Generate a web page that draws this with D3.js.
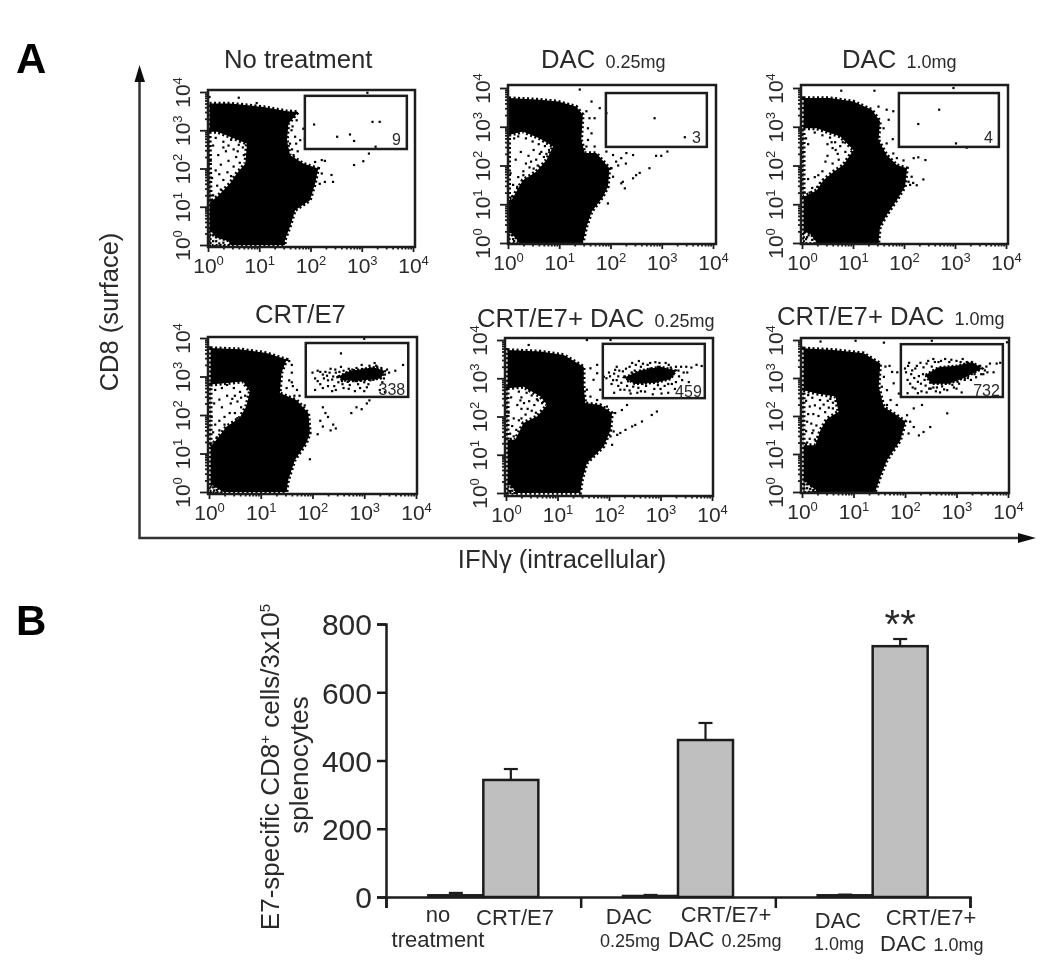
<!DOCTYPE html>
<html><head><meta charset="utf-8">
<script src="https://cdn.jsdelivr.net/npm/d3@7"></script>
<style>html,body{margin:0;background:#fff}svg{display:block}text{font-family:"Liberation Sans",Arial,sans-serif;fill:#2a2a2a}</style>
</head><body><svg id="c" width="1050" height="974"></svg>
<script>
// ---------- Panel A data: all coordinates are log10(fluorescence) ----------
const panelTitles = [["No treatment",""],["DAC ","0.25mg"],["DAC ","1.0mg"],["CRT/E7",""],["CRT/E7+ DAC ","0.25mg"],["CRT/E7+ DAC ","1.0mg"]];
const gateCounts = ["9","3","4","338","459","732"];
const gates = [[1.89,3.88,2.51,3.9],[1.91,3.88,2.48,3.87],[1.9,3.86,2.48,3.87],[1.87,3.85,2.47,3.87],[1.88,3.86,2.48,3.9],[1.92,3.9,2.5,3.89]];

const blobs = [
[[.03,3.70],[.43,3.70],[1.08,3.61],[1.54,3.50],[1.76,3.48],[1.57,3.17],[1.54,2.74],[1.60,2.35],[1.86,2.13],[2.15,2.00],[2.09,1.61],[1.99,1.17],[1.70,.91],[1.60,.48],[1.50,.13],[1.50,0],[.03,0]],
[[.02,3.74],[.62,3.70],[.98,3.65],[1.33,3.52],[1.46,3.31],[1.43,2.66],[1.50,2.32],[1.72,2.32],[1.98,1.93],[1.95,1.45],[1.85,1.19],[1.63,.80],[1.53,.41],[1.46,0],[.02,0]],
[[.03,3.74],[.55,3.74],[1.01,3.65],[1.37,3.44],[1.53,3.14],[1.50,2.66],[1.66,2.27],[1.86,2.01],[2.06,1.93],[2.02,1.45],[1.86,1.11],[1.66,.72],[1.53,.41],[1.50,0],[.03,0]],
[[.03,3.74],[.59,3.71],[1.11,3.61],[1.50,3.44],[1.40,3.09],[1.37,2.57],[1.69,2.39],[1.92,2.05],[1.95,1.53],[1.88,1.27],[1.66,.83],[1.53,.31],[1.50,0],[.03,0]],
[[.03,3.74],[.67,3.70],[1.12,3.61],[1.51,3.30],[1.51,2.78],[1.54,2.35],[1.83,2.30],[2.06,2.09],[2.03,1.65],[1.90,1.22],[1.57,.78],[1.48,.35],[1.44,0],[.03,0]],
[[.03,3.78],[.61,3.74],[1.20,3.65],[1.52,3.38],[1.49,2.77],[1.59,2.24],[1.84,2.02],[2.01,1.85],[1.91,1.36],[1.65,.84],[1.52,.40],[1.42,0],[.03,0]]
];
const holes = [
[[.03,2.96],[.18,2.96],[.43,2.83],[.76,2.65],[.73,2.13],[.56,1.87],[.43,1.61],[.18,1.26],[.05,1.13]],
[[.02,2.79],[.29,2.88],[.62,2.70],[.88,2.49],[.75,2.14],[.55,1.84],[.29,1.62],[.07,1.11],[.02,1.11]],
[[.03,2.96],[.29,2.96],[.75,2.75],[1.01,2.40],[.81,2.01],[.62,1.84],[.42,1.62],[.29,1.36],[.03,1.19]],
[[.03,2.79],[.34,2.83],[.66,2.87],[.79,2.61],[.72,2.22],[.59,1.92],[.34,1.70],[.14,1.35],[.03,1.18]],
[[.03,2.74],[.34,2.78],[.67,2.52],[.80,2.30],[.60,2.0],[.34,1.83],[.18,1.39],[.03,1.39]],
[[.03,2.68],[.29,2.59],[.65,2.51],[.71,2.11],[.49,1.93],[.36,1.63],[.26,1.23],[.03,1.23]]
];
const corners = [
[[.05,.38],[.15,.2],[.4,.1],[.45,0],[.05,0]],
[[.03,.3],[.14,.14],[.22,0],[.03,0]],
[[.04,.28],[.15,.25],[.3,0],[.04,0]],
[[.03,.2],[.17,.09],[.28,0],[.03,0]],
[[.05,.25],[.17,.08],[.18,0],[.05,0]],
[[.05,.3],[.16,.16],[.3,.03],[.05,0]]
];
const holeEvents = [
[[.15,2.8],[.3,2.7],[.45,2.75],[.6,2.62],[.68,2.55],[.5,2.5],[.35,2.45],[.2,2.35],[.1,2.6],[.55,2.3],[.62,2.15],[.4,2.2],[.25,2.1],[.15,1.95],[.38,1.9],[.5,2.05],[.3,1.7],[.18,1.55],[.1,1.3],[.08,1.75],[.25,1.45],[.4,2.6],[.7,2.35],[.05,2.2],[.3,2.55],[.45,1.8],[.58,2.45],[.22,1.85]],
[[.12,2.7],[.2,2.75],[.35,2.7],[.48,2.62],[.6,2.55],[.72,2.5],[.8,2.4],[.65,2.35],[.5,2.4],[.4,2.25],[.45,2.1],[.55,2.15],[.7,2.22],[.35,2.05],[.42,1.95],[.5,1.92],[.3,1.85],[.2,1.7],[.1,1.5],[.18,1.45],[.08,1.2],[.25,2.35],[.15,2.15],[.58,2.0],[.3,1.75],[.62,2.3],[.05,1.8],[.75,2.3]],
[[.08,2.7],[.12,2.55],[.25,2.85],[.4,2.78],[.55,2.72],[.65,2.6],[.75,2.5],[.85,2.35],[.7,2.3],[.6,2.45],[.72,2.15],[.6,2.05],[.5,2.25],[.4,1.85],[.32,1.75],[.25,1.7],[.35,1.55],[.3,1.45],[.12,1.65],[.05,1.3],[.15,1.3],[.8,2.6],[.58,2.6],[.46,2.1],[.66,2.4],[.2,1.42],[.5,2.55]],
[[.12,2.65],[.25,2.7],[.35,2.78],[.48,2.7],[.6,2.6],[.5,2.5],[.35,2.5],[.2,2.4],[.1,2.3],[.55,2.35],[.62,2.2],[.42,2.3],[.5,2.05],[.4,2.05],[.3,1.95],[.2,1.85],[.12,1.75],[.3,1.75],[.2,1.6],[.08,1.55],[.15,1.42],[.05,1.95],[.45,2.42],[.62,2.45],[.25,2.2],[.55,1.92],[.7,2.5]],
[[.25,2.65],[.3,2.5],[.4,2.62],[.5,2.55],[.6,2.45],[.45,2.4],[.35,2.35],[.55,2.3],[.7,2.35],[.42,2.2],[.3,2.2],[.5,2.15],[.58,2.1],[.22,2.3],[.1,2.5],[.15,1.95],[.25,1.9],[.12,1.75],[.2,1.65],[.08,1.55],[.15,1.48],[.38,2.05],[.62,2.42],[.28,2.42],[.45,2.7],[.05,2.1],[.3,1.95]],
[[.12,2.55],[.2,2.48],[.35,2.42],[.5,2.4],[.6,2.35],[.42,2.3],[.52,2.22],[.6,2.2],[.35,2.2],[.25,2.28],[.15,2.25],[.08,2.4],[.12,2.05],[.22,2.05],[.32,2.0],[.1,1.85],[.18,1.8],[.28,1.75],[.08,1.6],[.2,1.55],[.15,1.4],[.25,1.38],[.1,1.3],[.45,2.1],[.55,2.45],[.22,1.62]]
];
const cornerEvents = [
[[.1,.25],[.16,.1],[.3,.06],[.1,.1],[.22,.04]],
[[.08,.2],[.1,.1],[.12,.05]],
[[.1,.15],[.13,.2],[.2,.08],[.08,.1]],
[[.08,.12],[.15,.05],[.1,.04]],
[[.1,.15],[.12,.06],[.08,.05]],
[[.1,.2],[.16,.08],[.1,.1],[.22,.05]]
];
const scatterEvents = [
[[2.07,3.15],[3.21,3.22],[3.35,3.22],[2.52,2.83],[2.77,2.89],[2.85,2.72],[3.27,2.57],[2.85,2.09],[3.03,2.19],[3.11,3.98],[3.14,2.39],[2.22,2.22],[2.28,2.2],[2.09,2.17],[2.41,1.83],[2.44,1.65],[2.28,1.65],[2.22,1.87],[2.18,1.6],[1.67,3.35],[1.63,3.0],[1.70,2.83],[1.73,3.26],[1.6,2.65],[1.8,2.74],[1.67,2.35],[1.86,3.04],[1.89,2.78],[.6,3.85],[.95,3.71],[.03,3.87],[1.65,3.1],[1.72,2.65],[1.64,2.5],[1.75,2.45]],
[[2.86,3.22],[3.45,2.73],[1.4,3.96],[2.89,2.25],[2.99,2.25],[3.11,2.36],[2.76,1.93],[2.57,1.81],[2.5,1.75],[2.44,1.67],[2.21,1.54],[2.28,1.41],[2.24,1.58],[2.11,2.1],[2.21,2.19],[2.31,2.32],[2.44,2.27],[2.05,2.27],[1.92,2.36],[2.02,1.93],[2.05,1.71],[1.95,1.02],[1.79,3.48],[1.92,3.35],[1.63,3.65],[1.53,3.4],[1.59,3.22],[1.56,2.96],[1.56,2.66],[1.69,2.49],[1.53,2.49],[1.63,2.83],[1.69,3.22],[2.15,2.0],[2.3,2.05]],
[[2.69,3.44],[2.28,3.07],[3.02,2.57],[3.23,2.46],[.77,3.93],[1.42,3.93],[2.97,4.0],[2.42,2.14],[2.28,2.21],[2.19,2.19],[1.99,2.13],[2.38,1.64],[2.25,1.49],[2.15,1.71],[2.09,1.58],[1.79,3.4],[1.66,3.44],[1.5,3.52],[1.7,3.18],[1.78,2.68],[1.6,2.96],[1.66,2.57],[1.79,2.31],[1.86,2.19],[1.99,1.75],[2.12,1.5],[2.18,1.55]],
[[2.0,3.1],[2.05,2.95],[2.1,3.15],[2.15,2.8],[2.2,3.05],[2.25,3.12],[2.3,2.9],[2.35,3.2],[2.4,3.0],[2.42,2.75],[2.45,3.1],[2.5,2.85],[2.55,3.25],[2.6,2.7],[2.62,3.05],[2.65,2.95],[2.7,3.2],[2.72,2.78],[2.75,3.1],[2.78,2.9],[2.8,3.15],[2.82,2.62],[2.85,3.22],[2.88,2.8],[2.9,3.05],[2.95,3.3],[3,2.85],[3.02,3.18],[3.05,2.72],[3.1,3.28],[3.12,2.9],[3.15,3.2],[3.2,3.35],[3.22,2.95],[3.25,3.25],[3.3,3.12],[3.35,2.85],[3.4,3.05],[3.48,3.1],[3.6,3.15],[3.75,3.3],[2.55,3.6],[2.05,2.65],[2.2,2.7],[2.45,2.65],[3.3,2.65],[3.4,2.6],[2.85,2.2],[2.95,2.15],[3.05,2.3],[3.1,2.38],[2.75,2.05],[2.2,2.2],[2.25,2.05],[2.3,1.95],[2.4,1.75],[2.45,1.65],[2.35,1.6],[2.2,1.7],[2.15,1.85],[2.1,1.5],[1.95,.85],[3.0,3.98],[1.55,3.4],[1.6,3.3],[1.6,3.1],[1.55,2.9],[1.62,2.75],[1.5,2.7],[1.7,2.65],[1.75,2.5],[1.65,2.5],[1.6,2.85],[1.85,2.25],
 [2.22,2.95],[2.28,3.02],[2.33,3.1],[2.38,2.92],[2.44,3.18],[2.48,2.98],[2.52,3.12],[2.57,2.88],[2.6,3.15],[2.66,3.1],[2.68,2.86],[2.73,3.02],[2.77,3.18],[2.83,2.88],[2.87,3.12],[2.92,2.9],[2.97,3.18],[3.03,3.0],[3.07,3.12],[3.13,3.05],[3.18,2.92],[3.23,3.28],[3.28,3.0],[3.33,3.22],[3.38,2.95],[3.44,3.18],[2.1,2.88],[2.15,3.12],[2.3,2.75],[2.38,2.62],[2.58,2.8],[2.7,2.68],[2.92,2.7],[3.0,2.62],[3.08,2.8]],
[[1.95,3.0],[2.0,3.15],[2.05,2.85],[2.1,3.12],[2.15,2.95],[2.2,3.2],[2.22,2.7],[2.3,3.05],[2.35,2.8],[2.4,3.3],[2.42,2.6],[2.45,3.4],[2.5,3.2],[2.55,2.62],[2.58,3.45],[2.62,3.3],[2.7,2.65],[2.75,3.35],[2.8,3.25],[2.85,2.58],[2.9,3.42],[2.95,3.3],[3.0,2.72],[3.05,3.22],[3.1,3.4],[3.15,2.62],[3.2,3.28],[3.25,3.1],[3.3,2.9],[3.35,3.2],[3.4,3.3],[3.45,3.15],[3.5,3.3],[3.55,2.9],[3.6,3.28],[3.7,3.35],[3.8,3.32],[2.1,2.62],[2.3,2.7],[2.65,2.85],[2.95,2.82],[3.15,2.85],[2.93,2.13],[2.83,2.04],[2.64,1.87],[2.51,1.78],[2.45,1.74],[2.32,1.65],[2.22,1.57],[2.12,2.09],[2.35,2.3],[2.25,2.17],[2.06,1.26],[1.57,4],[2.03,4],[.44,3.87],[2.09,1.61],[2.16,1.52],[2.03,1.48],[1.96,2.26],[1.64,3.26],[1.77,3.35],[1.57,2.7],[1.64,2.52],[1.77,2.43],[1.7,2.96],[1.83,2.7],[1.9,3.04],[1.77,3.13],
 [2.02,3.05],[2.08,2.95],[2.12,3.22],[2.18,3.05],[2.24,2.88],[2.27,3.18],[2.33,3.25],[2.37,2.92],[2.44,3.15],[2.47,2.78],[2.52,3.35],[2.57,2.75],[2.66,3.38],[2.72,2.8],[2.8,3.4],[2.88,2.72],[2.98,3.4],[3.08,2.8],[3.16,3.35],[3.22,2.85],[3.3,3.3],[3.36,3.05],[3.42,2.95],[3.52,3.15],[2.18,2.8],[2.4,2.68],[2.62,2.66],[3.02,2.6],[3.28,2.72],[2.15,3.3]],
[[2.0,3.25],[2.05,2.95],[2.08,3.4],[2.12,3.1],[2.15,2.75],[2.2,3.25],[2.25,2.9],[2.3,3.4],[2.32,2.65],[2.35,3.1],[2.4,2.8],[2.45,3.45],[2.5,2.72],[2.55,3.5],[2.6,2.65],[2.65,3.42],[2.72,2.78],[2.78,3.5],[2.82,2.68],[2.9,3.48],[2.95,2.75],[3.0,3.45],[3.05,2.85],[3.12,3.5],[3.2,3.42],[3.28,2.95],[3.35,3.1],[3.42,3.28],[3.48,3.1],[3.55,3.2],[3.6,3.15],[3.65,3.38],[3.72,3.15],[3.78,3.38],[3.85,3.4],[2.25,2.6],[2.55,2.75],[2.05,2.6],[2.82,2.07],[2.49,1.71],[2.36,1.58],[2.27,1.49],[2.17,1.71],[2.1,1.85],[2.17,2.2],[2.33,2.29],[2.04,2.02],[1.97,1.76],[2.07,1.54],[1.04,3.98],[1.59,3.93],[2.52,3.98],[3.98,3.94],[.36,3.96],[1.62,3.3],[1.59,3.03],[1.65,2.68],[1.52,2.5],[1.72,2.42],[1.84,2.29],[1.78,2.86],[1.88,2.59],[1.75,3.16],[1.55,2.77],[1.65,2.29],[1.7,3.32],[1.85,3.15],
 [2.02,3.15],[2.06,3.32],[2.1,2.85],[2.14,3.2],[2.18,3.0],[2.23,3.32],[2.27,3.05],[2.31,2.85],[2.36,3.28],[2.38,2.95],[2.42,3.38],[2.47,2.72],[2.52,3.3],[2.58,3.42],[2.62,2.75],[2.7,3.45],[2.76,2.7],[2.86,3.42],[2.92,2.82],[3.02,2.9],[3.08,3.42],[3.16,2.95],[3.22,3.0],[3.38,3.02],[3.46,3.32],[3.52,3.1],[3.58,3.3],[2.2,2.72],[2.42,2.62],[2.68,2.62],[3.0,2.72],[3.1,2.62]]
];
const gateCores = [[],[],[],
[[2.5,3.0],[2.72,3.14],[3.18,3.24],[3.4,3.14],[3.32,2.95],[2.85,2.88],[2.58,2.9]],
[[2.3,3.02],[2.6,3.2],[3.0,3.3],[3.3,3.2],[3.2,2.98],[2.9,2.88],[2.5,2.85]],
[[2.4,3.08],[2.65,3.28],[3.0,3.32],[3.3,3.42],[3.5,3.25],[3.15,3.0],[2.85,2.85],[2.5,2.85]]
];
const decades = [0,1,2,3,4];

// ---------- Panel B data ----------
const groups = ["g1","g2","g3"];
const treatments = ["dac","crt"];
const barValues = [[5,343],[3,460],[5,735]];
const barErrors = [[12,375],[6,510],[7,756]];
const yTicksB = [0,200,400,600,800];

// ---------- Layout ----------
const panelBox = [
 {x0:208,x4:413,y0:245,y4:92,l:208,r:415,t:90,b:247,tx:224,ty:68},
 {x0:508,x4:713,y0:243,y4:88,l:508,r:716,t:85,b:244,tx:541,ty:68},
 {x0:802,x4:1006,y0:243,y4:88,l:801,r:1008,t:85,b:244,tx:842,ty:68},
 {x0:209,x4:416,y0:492,y4:338,l:208,r:417,t:337,b:494,tx:255,ty:323},
 {x0:506,x4:712,y0:493,y4:340,l:505,r:713,t:338,b:496,tx:477,ty:327},
 {x0:802,x4:1008,y0:492,y4:340,l:801,r:1009,t:338,b:493,tx:777,ty:325}
];
const svg = d3.select("#c");
const defs = svg.append("defs");
defs.append("filter").attr("id","soft").attr("x",0).attr("y",0).attr("width",1).attr("height",1)
  .attr("filterUnits","objectBoundingBox").append("feGaussianBlur").attr("stdDeviation",0.55);
const root = svg.append("g").attr("filter","url(#soft)");
root.append("rect").attr("width",1050).attr("height",974).attr("fill","#fff");
const dark = "#1c1c1c";

function powerLabel(sel){
  sel.each(function(d){
    const e = Math.round(Math.log10(d));
    const t = d3.select(this).text("10");
    t.append("tspan").attr("font-size",13).attr("dy",-8).text(e);
  });
}

panelBox.forEach((box,i)=>{
  const g = root.append("g");
  const x = d3.scaleLog().domain([1,1e4]).range([box.x0,box.x4]);
  const y = d3.scaleLog().domain([1,1e4]).range([box.y0,box.y4]);
  const px = d=>x(10**d[0]), py = d=>y(10**d[1]);
  const line = d3.line().x(px).y(py).curve(d3.curveLinearClosed);
  // title
  const tt = g.append("text").attr("x",box.tx).attr("y",box.ty).attr("font-size",25.7);
  tt.append("tspan").text(panelTitles[i][0]);
  if(panelTitles[i][1]) tt.append("tspan").attr("font-size",18).attr("dx",3).text(panelTitles[i][1]);
  // population, with speckled edges
  g.append("path").attr("d",line(blobs[i])).attr("fill","#000").attr("stroke","#000").attr("stroke-width",3.5).attr("stroke-dasharray","2 2.5");
  g.append("path").attr("d",line(holes[i])).attr("fill","#fff");
  g.append("path").attr("d",line(holes[i])).attr("fill","none").attr("stroke","#000").attr("stroke-width",4).attr("stroke-dasharray","2 2.5");
  g.append("path").attr("d",line(corners[i])).attr("fill","#f4f4f4").attr("stroke","#000").attr("stroke-width",2).attr("stroke-dasharray","2 2");
  if(gateCores[i].length) g.append("path").attr("d",line(gateCores[i])).attr("fill","#000").attr("stroke","#000").attr("stroke-width",2.5).attr("stroke-dasharray","2 2");
  [holeEvents[i],cornerEvents[i],scatterEvents[i]].forEach(list=>{
    g.append("g").selectAll("rect").data(list).join("rect")
      .attr("x",d=>px(d)-1.1).attr("y",d=>py(d)-1.1).attr("width",2.2).attr("height",2.2).attr("fill","#000");
  });
  // white margin outside the frame so edge strokes stay inside
  // frame and gate
  g.append("rect").attr("x",box.l).attr("y",box.t).attr("width",box.r-box.l).attr("height",box.b-box.t)
    .attr("fill","none").attr("stroke",dark).attr("stroke-width",2.5);
  const gt = gates[i];
  g.append("rect").attr("x",x(10**gt[0])).attr("y",y(10**gt[3]))
    .attr("width",x(10**gt[1])-x(10**gt[0])).attr("height",y(10**gt[2])-y(10**gt[3]))
    .attr("fill","none").attr("stroke",dark).attr("stroke-width",2.5);
  g.append("text").attr("x",x(10**gt[1])-(i<3?6:3)).attr("y",y(10**gt[2])-(i<3?4:1.5))
    .attr("text-anchor","end").attr("font-size",16).text(gateCounts[i]);
  // axes
  const majors = decades.map(e=>10**e);
  const minors = d3.merge(decades.slice(0,4).map(e=>d3.range(2,10).map(m=>m*10**e)));
  const ax = g.append("g").attr("transform",`translate(0,${box.b})`);
  ax.append("g").call(d3.axisBottom(x).tickValues(minors).tickSize(2.5).tickFormat(""));
  ax.append("g").attr("class","maj").call(d3.axisBottom(x).tickValues(majors).tickSize(5).tickPadding(9));
  const ay = g.append("g").attr("transform",`translate(${box.l},0)`);
  ay.append("g").call(d3.axisLeft(y).tickValues(minors).tickSize(3).tickFormat(""));
  ay.append("g").attr("class","maj").call(d3.axisLeft(y).tickValues(majors).tickSize(8).tickPadding(5));
  g.selectAll(".domain").remove();
  g.selectAll(".tick line").attr("stroke",dark).attr("stroke-width",1.8);
  ax.select(".maj").selectAll(".tick text").attr("font-size",21).attr("font-family",null)
    .attr("y",null).attr("dy",null).attr("transform",`translate(0,26)`).call(powerLabel);
  ay.select(".maj").selectAll(".tick text").each(function(d){
      d3.select(this).attr("x",null).attr("dy",null).attr("text-anchor","middle")
        .attr("transform",`translate(-18,0) rotate(-90)`).attr("font-size",21);
    }).call(powerLabel);
});

// big axis arrows
const arrow = root.append("g");
arrow.append("path").attr("d",d3.line()([[139.5,78],[139.5,538],[1022,538]]))
  .attr("fill","none").attr("stroke","#333").attr("stroke-width",2.5);
arrow.append("path").attr("d",d3.line()([[139.5,65],[134.5,82],[145,82]])+"Z").attr("fill","#111");
arrow.append("path").attr("d",d3.line()([[1036,538],[1018,533],[1018,543]])+"Z").attr("fill","#111");
root.append("text").attr("transform","translate(118,312) rotate(-90)").attr("text-anchor","middle").attr("font-size",25.5).text("CD8 (surface)");
root.append("text").attr("x",562).attr("y",568).attr("text-anchor","middle").attr("font-size",25.5).text("IFNγ (intracellular)");
root.append("text").attr("x",16).attr("y",73).attr("font-size",42).attr("font-weight","bold").style("fill","#000").text("A");
root.append("text").attr("x",16).attr("y",635).attr("font-size",42).attr("font-weight","bold").style("fill","#000").text("B");

// ---------- Panel B ----------
const b = root.append("g");
const yB = d3.scaleLinear().domain([0,800]).range([897,624]);
const xG = d3.scaleBand().domain(groups).range([386,970]);
const xT = d3.scaleBand().domain(treatments).range([0,110]);
const barOff = xG.bandwidth()/2-55;
groups.forEach((grp,gi)=>{
  treatments.forEach((tr,ti)=>{
    const bx = xG(grp)+barOff+xT(tr), w = xT.bandwidth();
    const cx = bx+w/2;
    b.append("path").attr("d",d3.line()([[cx,yB(barErrors[gi][ti])],[cx,yB(barValues[gi][ti])]]))
      .attr("stroke",dark).attr("stroke-width",2.2);
    b.append("path").attr("d",d3.line()([[cx-7,yB(barErrors[gi][ti])],[cx+7,yB(barErrors[gi][ti])]]))
      .attr("stroke",dark).attr("stroke-width",2.2);
    b.append("rect").attr("x",bx).attr("y",yB(barValues[gi][ti])).attr("width",w)
      .attr("height",yB(0)-yB(barValues[gi][ti])).attr("fill","#bfbfbf").attr("stroke",dark).attr("stroke-width",2.5);
  });
});
const axY = b.append("g").attr("transform","translate(386,0)")
  .call(d3.axisLeft(yB).tickValues(yTicksB).tickSize(9).tickPadding(5));
axY.selectAll("text").attr("font-size",30).attr("dy","0.36em").attr("font-family",null);
axY.selectAll("line,path").attr("stroke",dark).attr("stroke-width",2.5);
const xBound = d3.scaleLinear().domain([0,3]).range([386,970]);
const axX = b.append("g").attr("transform","translate(0,897)")
  .call(d3.axisBottom(xBound).tickValues([0,1,2,3]).tickSize(11).tickFormat(""));
axX.selectAll("line,path").attr("stroke",dark).attr("stroke-width",2.5);
b.append("text").attr("x",xG("g3")+barOff+xT("crt")+xT.bandwidth()/2).attr("y",638).attr("text-anchor","middle").attr("font-size",40).text("**");

const labelB = [
 ["no","",438,922,"middle"],["treatment","",438,947,"middle"],["CRT/E7","",515,925,"middle"],
 ["DAC","",629,924,"middle"],["0.25mg","",630,947,"middle",18],["CRT/E7+","",726,922,"middle"],
 ["DAC ","0.25mg",668,947,"start"],
 ["DAC","",838,928,"middle"],["1.0mg","",839,950,"middle",18],["CRT/E7+","",931,925,"middle"],
 ["DAC ","1.0mg",880,951,"start"]
];
labelB.forEach(l=>{
  const t = b.append("text").attr("x",l[2]).attr("y",l[3]).attr("text-anchor",l[4]).attr("font-size",l[5]||22);
  t.append("tspan").text(l[0]);
  if(l[1]) t.append("tspan").attr("font-size",18).attr("dx",1).text(l[1]);
});
const yt = b.append("text").attr("transform","translate(279,767) rotate(-90)").attr("text-anchor","middle").attr("font-size",26);
yt.append("tspan").text("E7-specific CD8");
yt.append("tspan").attr("font-size",15).attr("dy",-9).text("+");
yt.append("tspan").attr("dy",9).text(" cells/3x10");
yt.append("tspan").attr("font-size",15).attr("dy",-9).text("5");
b.append("text").attr("transform","translate(308,765) rotate(-90)").attr("text-anchor","middle").attr("font-size",26).text("splenocytes");
</script></body></html>
